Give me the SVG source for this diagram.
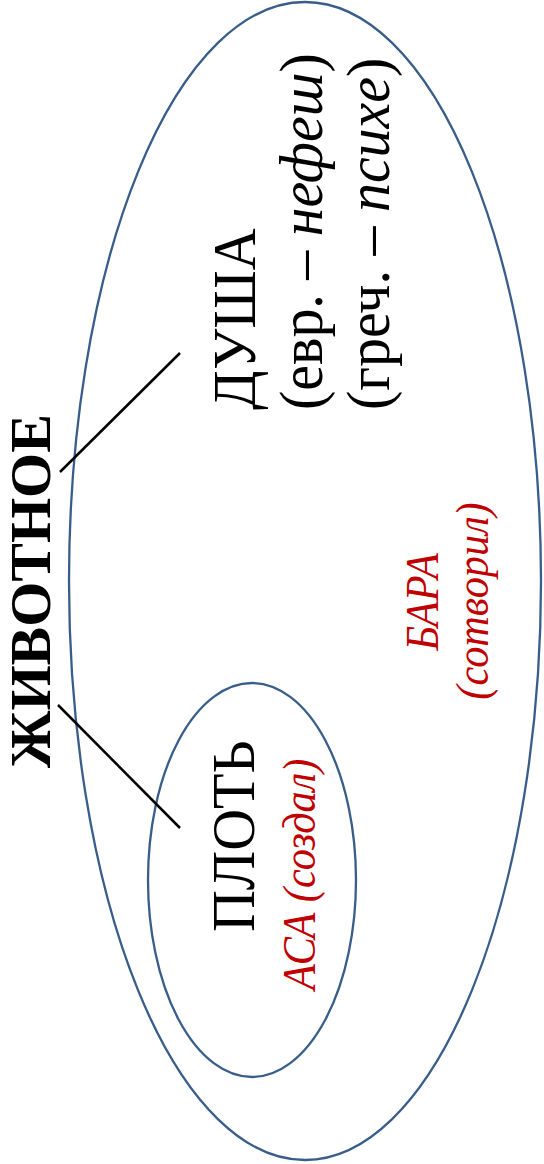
<svg xmlns="http://www.w3.org/2000/svg" width="544" height="1164" viewBox="0 0 544 1164">
<style>
.ell{fill:none;stroke:#385D8A;stroke-width:2.3}
.con{stroke:#000;stroke-width:2.5}
.t{font-family:"Liberation Serif","Times New Roman",serif;font-size:62px;fill:#000}
.b{font-weight:bold;font-size:58px}
.r{font-family:"Liberation Serif","Times New Roman",serif;font-size:46px;font-style:italic;fill:#C00000}
</style>
<rect width="544" height="1164" fill="#fff"/>
<g id="big">
<ellipse class="ell" cx="305" cy="581" rx="236" ry="579"/>
</g>
<g id="small">
<ellipse class="ell" cx="252" cy="880" rx="104" ry="197"/>
</g>
<g id="connectors">
<line class="con" x1="60" y1="472" x2="180" y2="353"/>
<line class="con" x1="58" y1="705" x2="180" y2="828"/>
</g>
<g id="animal">
<text class="t b" text-anchor="middle" transform="translate(50,591) rotate(-90)">ЖИВОТНОЕ</text>
</g>
<g id="soul">
<text class="t" transform="translate(255,410) rotate(-90) scale(0.935,1)">ДУША</text>
<text class="t" transform="translate(322,410) rotate(-90) scale(0.935,1)">(евр. – <tspan font-style="italic">нефеш</tspan>)</text>
<text class="t" transform="translate(389,410) rotate(-90) scale(0.935,1)">(греч. – <tspan font-style="italic">психе</tspan>)</text>
</g>
<g id="flesh">
<text class="t" transform="translate(254,932) rotate(-90) scale(0.935,1)">ПЛОТЬ</text>
<text class="r" transform="translate(315,990) rotate(-90) scale(0.92,1)">АСА (создал)</text>
</g>
<g id="bara">
<text class="r" text-anchor="middle" transform="translate(438,602) rotate(-90) scale(0.92,1)">БАРА</text>
<text class="r" text-anchor="middle" transform="translate(488,601) rotate(-90) scale(0.92,1)">(сотворил)</text>
</g>
</svg>
